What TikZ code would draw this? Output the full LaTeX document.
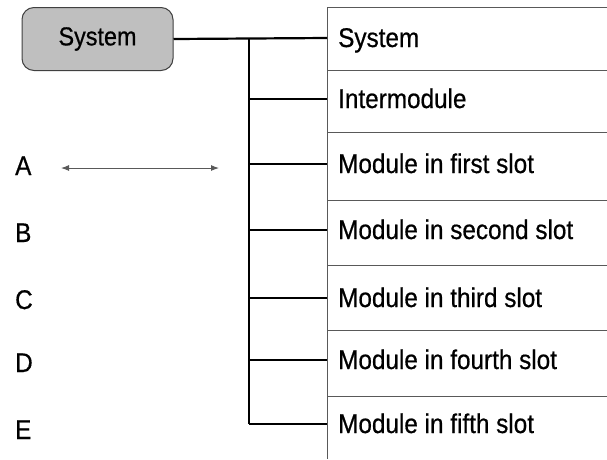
\documentclass[tikz,border=0pt]{standalone}
\usepackage{fontspec}
\setmainfont{Liberation Sans}[FakeStretch=0.9,FakeBold=0.6]
\usetikzlibrary{arrows.meta}
\begin{document}
\begin{tikzpicture}[x=1pt,y=-1pt,
  txt/.style={font=\fontsize{27}{32}\selectfont, inner sep=0pt, text=black},
  sysbox/.style={draw=black!75, line width=1pt, fill=black!25, rounded corners=12pt,
    minimum width=151pt, minimum height=63pt, inner sep=0pt, font=\fontsize{26}{30}\selectfont},
  bus/.style={line width=2.2pt, black},
  grid/.style={line width=1pt, black!65},
  dim/.style={line width=1pt, black!65, {Latex[length=8pt,width=6pt]}-{Latex[length=8pt,width=6pt]}}]
\useasboundingbox (0,0) rectangle (607,459);
% table grid
\draw[grid] (327,7) -- (607,7);
\draw[grid] (327,7) -- (327,459);
\foreach \yy in {70,132,200,265,330,396} {\draw[grid] (327,\yy) -- (607,\yy);}
% system box
\node[sysbox] (sys) at (97.5,39) {System};
% row labels and connection points
\foreach \i/\yy/\t in {1/38/System, 2/99/Intermodule, 3/164/Module in first slot,
   4/230/Module in second slot, 5/298/Module in third slot, 6/360/Module in fourth slot,
   7/424/Module in fifth slot} {
  \coordinate (t\i) at (327,\yy);
  \coordinate (b\i) at (249,\yy);
  \node[txt, anchor=base west] (r\i) at (338,\yy+9) {\t};
}
\draw[bus] (sys.east) -- (t1);
\draw[bus] (b1) -- (b7);
\foreach \i in {2,...,7} {\draw[bus] (b\i) -- (t\i);}
% letters
\node[txt, anchor=base west] (A) at (15,175) {A};
\node[txt, anchor=base west] (B) at (15,242) {B};
\node[txt, anchor=base west] (C) at (15,309) {C};
\node[txt, anchor=base west] (D) at (15,372) {D};
\node[txt, anchor=base west] (E) at (15,439) {E};
% arrow
\coordinate (aL) at (61,168);
\coordinate (aR) at (219,168);
\draw[dim] (aL) -- (aR);
\end{tikzpicture}
\end{document}
